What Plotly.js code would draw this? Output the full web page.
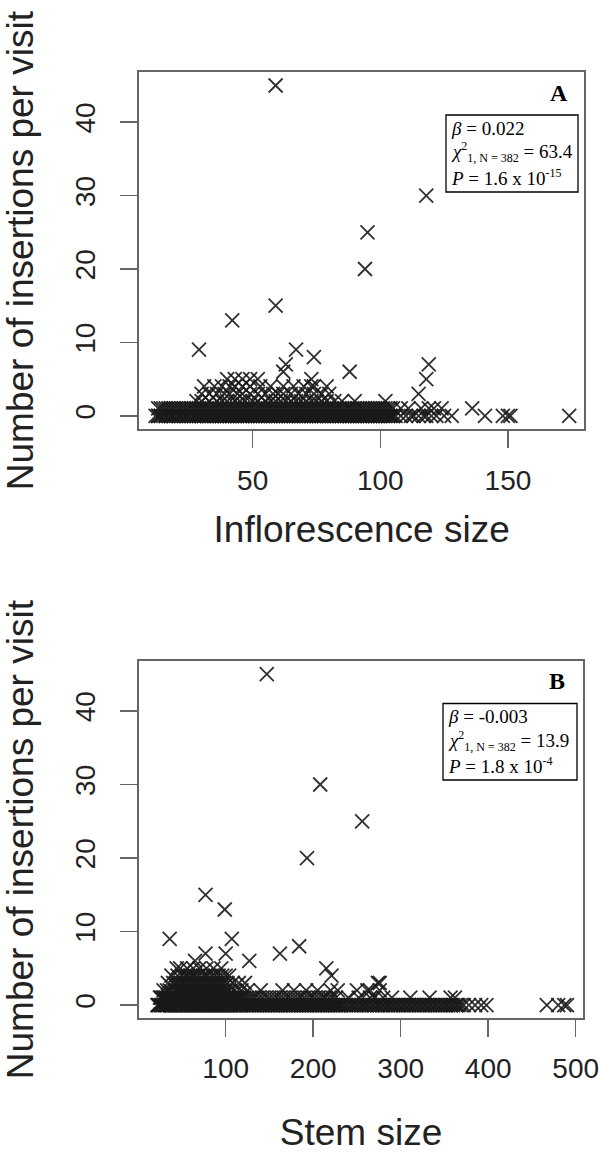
<!DOCTYPE html>
<html><head><meta charset="utf-8">
<script src="https://cdn.plot.ly/plotly-3.0.1.min.js"></script>
<style>html,body{margin:0;padding:0;background:#fff;} #chart{width:600px;height:1153px;}</style>
</head><body><div id="chart"></div>
<script>
// Number of insertions per visit (count levels shared by both panels)
const insertionLevels = [0, 1, 2, 3, 4, 5, 6, 7, 8, 9, 13, 15, 20, 25, 30, 45];

// Panel A: inflorescence size of visits, grouped by insertion count level
const inflSizeByLevel = [
  [12,13,13,14,14,15,16,16,17,18,18,19,19,20,21,21,22,22,23,24,24,25,25,26,27,27,28,28,29,30,30,31,31,32,32,33,33,34,34,35,35,36,36,37,37,38,38,39,39,40,40,41,41,42,42,43,43,44,44,45,45,46,46,47,47,48,48,49,49,50,50,51,51,52,52,53,53,54,54,55,55,56,56,57,57,58,58,59,59,60,60,61,61,62,62,63,63,64,64,65,65,66,66,67,67,68,68,69,69,70,70,71,71,72,72,73,73,74,74,75,75,76,76,77,77,78,78,79,79,80,80,81,81,82,82,83,83,84,84,85,85,86,86,87,87,88,88,89,89,90,90,91,91,92,92,93,93,94,94,95,95,96,96,97,97,98,98,99,99,100,100,101,101,102,102,103,103,104,104,105,105,106,108,110,112,113,115,117,118,120,122,125,128,141,148,150,151,174],
  [13,14,15,16,17,18,19,20,21,22,23,24,25,26,27,28,29,30,31,32,33,34,35,36,37,38,39,40,41,42,43,44,45,46,47,48,49,50,51,52,53,54,55,56,57,58,59,60,61,62,63,64,65,66,67,68,69,70,71,72,73,74,75,76,77,78,79,80,81,82,83,84,85,86,87,88,89,90,91,92,93,94,95,96,97,98,99,100,101,102,103,104,105,108,111,116,119,121,124,136],
  [28,30,33,36,38,40,43,45,47,50,52,55,57,59,61,63,65,67,69,71,73,75,77,79,82,85,90,102],
  [30,33,36,39,41,44,46,49,52,55,58,60,62,65,68,71,74,77,80,115],
  [31,35,38,41,43,46,49,53,57,62,66,70,73,74,79],
  [40,43,46,49,52,73,118],
  [62,88],
  [63,119],
  [74],
  [29,67],
  [42],
  [59],
  [94],
  [95],
  [118],
  [59]
];

// Panel B: stem size of visits, grouped by insertion count level
const stemSizeByLevel = [
  [22,23,24,26,27,28,30,31,32,33,34,36,37,38,39,40,42,43,44,45,46,48,49,50,51,52,54,55,56,57,58,60,61,62,63,64,66,67,68,69,70,72,73,74,75,76,78,79,80,81,82,84,85,86,87,88,90,91,92,93,94,96,97,98,99,100,102,103,104,105,106,108,109,110,111,112,114,115,116,117,118,120,121,123,124,126,127,129,130,132,133,135,136,138,139,141,142,144,145,147,148,150,151,153,154,156,157,159,160,162,163,165,166,168,169,171,172,174,175,177,178,180,181,183,184,186,187,189,190,192,193,195,196,198,199,201,202,204,205,207,208,210,211,213,214,216,217,219,220,222,223,225,226,228,229,231,232,234,237,238,240,243,244,246,249,250,252,255,256,258,261,262,264,267,268,270,273,274,276,279,280,282,285,286,288,291,292,294,297,298,300,303,304,306,309,310,312,315,316,318,321,322,324,327,328,330,333,334,336,339,340,342,345,346,348,351,352,354,357,358,360,363,364,366,369,372,378,385,392,398,467,480,487,490],
  [25,26,28,29,31,32,34,35,37,38,40,41,43,44,46,47,49,50,52,53,55,56,58,59,61,62,64,65,67,68,70,71,73,74,76,77,79,80,82,83,85,86,88,89,91,92,94,95,97,98,100,101,103,104,106,107,109,110,112,113,115,116,118,119,121,124,127,130,134,138,142,146,150,154,158,162,166,170,174,178,182,186,190,194,198,202,206,210,214,218,222,226,240,252,265,270,280,290,311,333,357,362],
  [29,33,36,42,45,48,51,54,57,60,63,66,69,72,75,78,82,85,88,92,95,98,101,104,110,118,125,140,165,178,192,205,220,228,250,262,265,276],
  [34,40,43,46,49,52,55,58,61,64,67,70,73,76,79,82,85,88,91,95,98,102,108,115,122,274,276],
  [38,45,50,54,57,60,62,65,68,74,77,80,84,88,92,96,100,104,221],
  [44,48,56,63,70,78,86,95,215],
  [65,127],
  [77,100,162],
  [184],
  [36,107],
  [99],
  [77],
  [193],
  [256],
  [208],
  [147]
];

const xTicksA = [50, 100, 150];
const xTicksB = [100, 200, 300, 400, 500];
const yTicks = [0, 10, 20, 30, 40];

const small = s => '<span style="font-size:12px">' + s + '</span>';
const statsA = ['<i>β</i> = 0.022', '<i>χ</i><sup>' + small('2') + '</sup><sub>' + small('1, N = 382') + '</sub> = 63.4', '<i>P</i> = 1.6 x 10<sup>' + small('-15') + '</sup>'];
const statsB = ['<i>β</i> = -0.003', '<i>χ</i><sup>' + small('2') + '</sup><sub>' + small('1, N = 382') + '</sub> = 13.9', '<i>P</i> = 1.8 x 10<sup>' + small('-4') + '</sup>'];

function expand(groups) {
  const xs = [], ys = [];
  groups.forEach((g, i) => g.forEach(v => { xs.push(v); ys.push(insertionLevels[i]); }));
  return {xs, ys};
}
const A = expand(inflSizeByLevel);
const B = expand(stemSizeByLevel);

const W = 600, H = 1153;
const px = v => v / W, py = v => 1 - v / H;

const markerStyle = {symbol: 'x-thin-open', size: 14, color: 'rgba(25,25,25,0.9)', line: {width: 1.8, color: 'rgba(25,25,25,0.9)'}};

const data = [
  {x: A.xs, y: A.ys, type: 'scatter', mode: 'markers', marker: markerStyle, xaxis: 'x', yaxis: 'y', hoverinfo: 'skip'},
  {x: B.xs, y: B.ys, type: 'scatter', mode: 'markers', marker: markerStyle, xaxis: 'x2', yaxis: 'y2', hoverinfo: 'skip'}
];

const tickFont = {family: 'Liberation Sans, Arial, sans-serif', size: 28, color: '#222'};
const titleFont = {family: 'Liberation Sans, Arial, sans-serif', size: 37, color: '#222'};
const axisCommon = {
  showgrid: false, zeroline: false, showline: true, mirror: true, linecolor: '#666', linewidth: 2,
  ticks: 'outside', ticklen: 17, tickwidth: 1.5, tickcolor: '#666', tickfont: tickFont, fixedrange: true
};

const layout = {
  width: W, height: H, margin: {l: 0, r: 0, t: 0, b: 0},
  paper_bgcolor: '#fff', plot_bgcolor: '#fff', showlegend: false,
  xaxis: Object.assign({}, axisCommon, {domain: [px(139.3), px(584)], range: [5.6, 179.8], tickmode: 'array', tickvals: xTicksA, ticklabelstandoff: 8, anchor: 'y',
    title: {text: 'Inflorescence size', font: titleFont, standoff: 22}}),
  yaxis: Object.assign({}, axisCommon, {domain: [py(429), py(72.3)], range: [-1.8, 46.8], tickmode: 'array', tickvals: yTicks, tickangle: -90, ticklabelstandoff: 14, anchor: 'x',
    title: {text: 'Number of insertions per visit', font: titleFont, standoff: 35}}),
  xaxis2: Object.assign({}, axisCommon, {domain: [px(139.3), px(582.7)], range: [1.3, 508], tickmode: 'array', tickvals: xTicksB, ticklabelstandoff: 7, anchor: 'y2',
    title: {text: 'Stem size', font: titleFont, standoff: 37}}),
  yaxis2: Object.assign({}, axisCommon, {domain: [py(1018.3), py(661)], range: [-1.8, 46.8], tickmode: 'array', tickvals: yTicks, tickangle: -90, ticklabelstandoff: 14, anchor: 'x2',
    title: {text: 'Number of insertions per visit', font: titleFont, standoff: 35}}),
  shapes: [
    {type: 'rect', xref: 'paper', yref: 'paper', x0: px(446), x1: px(578), y0: py(192), y1: py(115), line: {color: '#000', width: 1.3}, fillcolor: '#fff'},
    {type: 'rect', xref: 'paper', yref: 'paper', x0: px(443), x1: px(577), y0: py(780), y1: py(703.5), line: {color: '#000', width: 1.3}, fillcolor: '#fff'}
  ],
  annotations: []
};

const serif = 'Liberation Serif, Times New Roman, serif';
function addStats(lines, xLeft, yCenters) {
  lines.forEach((t, i) => layout.annotations.push({
    text: t, xref: 'paper', yref: 'paper', x: px(xLeft), y: py(yCenters[i]), xanchor: 'left', yanchor: 'middle',
    showarrow: false, align: 'left', font: {family: serif, size: 19, color: '#000'}
  }));
}
addStats(statsA, 449, [128, 152, 177]);
addStats(statsB, 446, [716.5, 740.5, 765.5]);
layout.annotations.push({text: '<b>A</b>', xref: 'paper', yref: 'paper', x: px(559), y: py(93), xanchor: 'center', yanchor: 'middle', showarrow: false, font: {family: serif, size: 24, color: '#000'}});
layout.annotations.push({text: '<b>B</b>', xref: 'paper', yref: 'paper', x: px(557), y: py(681), xanchor: 'center', yanchor: 'middle', showarrow: false, font: {family: serif, size: 24, color: '#000'}});

Plotly.newPlot('chart', data, layout, {staticPlot: true, displayModeBar: false});
</script>
</body></html>
